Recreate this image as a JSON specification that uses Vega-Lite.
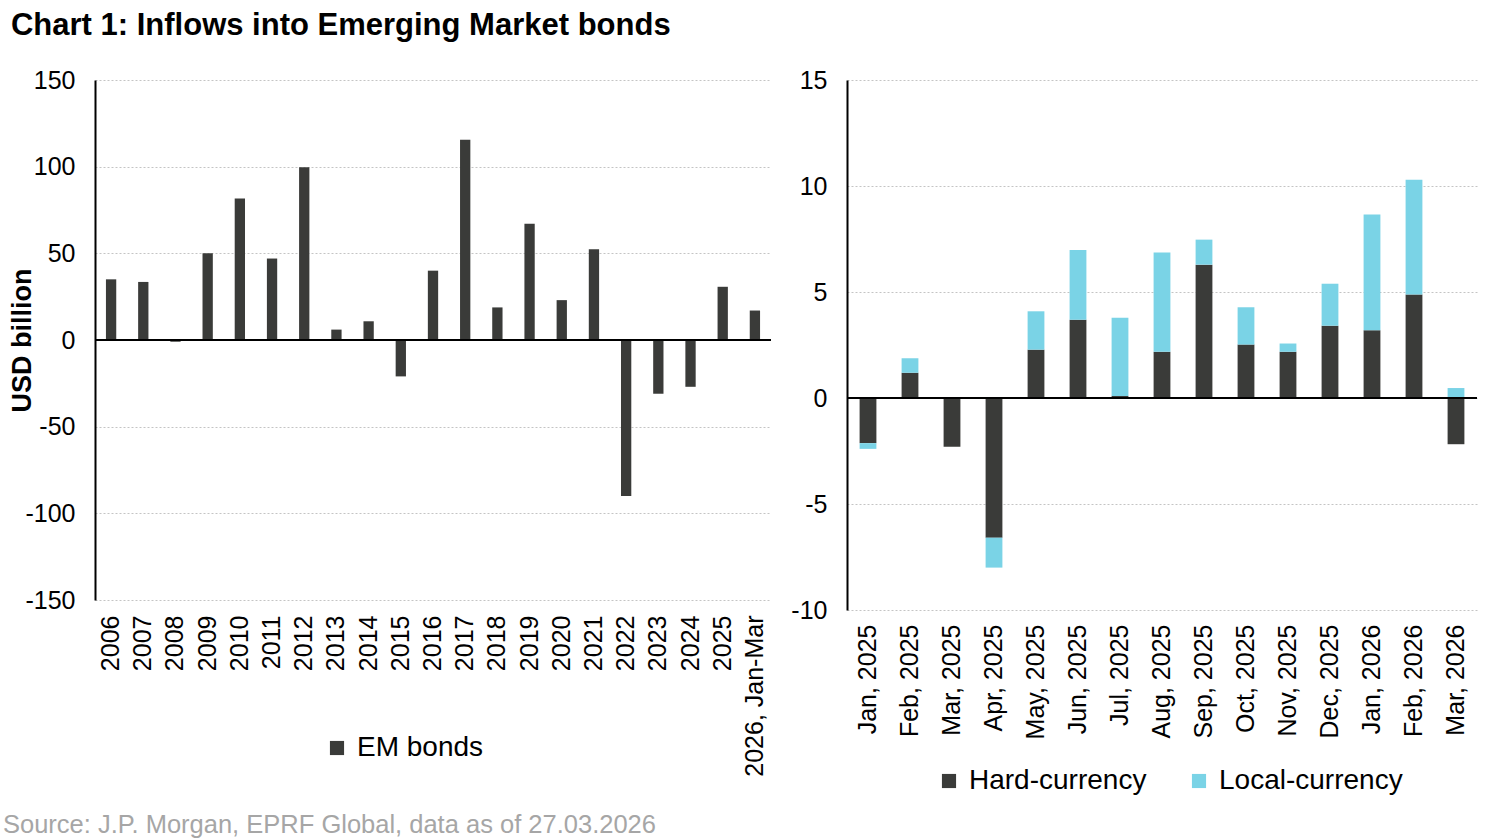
{
  "$schema": "https://vega.github.io/schema/vega-lite/v6.json",
  "description": "Chart 1: Inflows into Emerging Market bonds",
  "padding": {"left": 2, "top": 10, "right": 10, "bottom": 0},
  "background": "white",
  "spacing": 18,
  "title": {
    "text": "Chart 1: Inflows into Emerging Market bonds",
    "anchor": "start",
    "frame": "bounds",
    "fontSize": 31,
    "fontWeight": "bold",
    "color": "black",
    "offset": 26,
    "dx": 8
  },
  "datasets": {
    "annual": [
      {"period": "2006", "series": "EM bonds", "flow": 35},
      {"period": "2007", "series": "EM bonds", "flow": 33.5},
      {"period": "2008", "series": "EM bonds", "flow": -1},
      {"period": "2009", "series": "EM bonds", "flow": 50},
      {"period": "2010", "series": "EM bonds", "flow": 81.6},
      {"period": "2011", "series": "EM bonds", "flow": 47},
      {"period": "2012", "series": "EM bonds", "flow": 99.7},
      {"period": "2013", "series": "EM bonds", "flow": 6},
      {"period": "2014", "series": "EM bonds", "flow": 10.8},
      {"period": "2015", "series": "EM bonds", "flow": -21},
      {"period": "2016", "series": "EM bonds", "flow": 40},
      {"period": "2017", "series": "EM bonds", "flow": 115.6},
      {"period": "2018", "series": "EM bonds", "flow": 18.8},
      {"period": "2019", "series": "EM bonds", "flow": 67},
      {"period": "2020", "series": "EM bonds", "flow": 23},
      {"period": "2021", "series": "EM bonds", "flow": 52.3},
      {"period": "2022", "series": "EM bonds", "flow": -90},
      {"period": "2023", "series": "EM bonds", "flow": -31},
      {"period": "2024", "series": "EM bonds", "flow": -27},
      {"period": "2025", "series": "EM bonds", "flow": 30.7},
      {"period": "2026, Jan-Mar", "series": "EM bonds", "flow": 17}
    ],
    "monthly": [
      {"month": "Jan, 2025", "series": "Hard-currency", "flow": -2.13},
      {"month": "Jan, 2025", "series": "Local-currency", "flow": -0.27},
      {"month": "Feb, 2025", "series": "Hard-currency", "flow": 1.19},
      {"month": "Feb, 2025", "series": "Local-currency", "flow": 0.69},
      {"month": "Mar, 2025", "series": "Hard-currency", "flow": -2.3},
      {"month": "Mar, 2025", "series": "Local-currency", "flow": 0},
      {"month": "Apr, 2025", "series": "Hard-currency", "flow": -6.59},
      {"month": "Apr, 2025", "series": "Local-currency", "flow": -1.41},
      {"month": "May, 2025", "series": "Hard-currency", "flow": 2.28},
      {"month": "May, 2025", "series": "Local-currency", "flow": 1.81},
      {"month": "Jun, 2025", "series": "Hard-currency", "flow": 3.69},
      {"month": "Jun, 2025", "series": "Local-currency", "flow": 3.29},
      {"month": "Jul, 2025", "series": "Hard-currency", "flow": 0.1},
      {"month": "Jul, 2025", "series": "Local-currency", "flow": 3.69},
      {"month": "Aug, 2025", "series": "Hard-currency", "flow": 2.18},
      {"month": "Aug, 2025", "series": "Local-currency", "flow": 4.68},
      {"month": "Sep, 2025", "series": "Hard-currency", "flow": 6.29},
      {"month": "Sep, 2025", "series": "Local-currency", "flow": 1.18},
      {"month": "Oct, 2025", "series": "Hard-currency", "flow": 2.52},
      {"month": "Oct, 2025", "series": "Local-currency", "flow": 1.76},
      {"month": "Nov, 2025", "series": "Hard-currency", "flow": 2.18},
      {"month": "Nov, 2025", "series": "Local-currency", "flow": 0.39},
      {"month": "Dec, 2025", "series": "Hard-currency", "flow": 3.41},
      {"month": "Dec, 2025", "series": "Local-currency", "flow": 1.98},
      {"month": "Jan, 2026", "series": "Hard-currency", "flow": 3.2},
      {"month": "Jan, 2026", "series": "Local-currency", "flow": 5.46},
      {"month": "Feb, 2026", "series": "Hard-currency", "flow": 4.88},
      {"month": "Feb, 2026", "series": "Local-currency", "flow": 5.41},
      {"month": "Mar, 2026", "series": "Hard-currency", "flow": -2.18},
      {"month": "Mar, 2026", "series": "Local-currency", "flow": 0.47}
    ]
  },
  "hconcat": [
    {
      "width": 676,
      "height": 520,
      "title": {
        "text": "Source: J.P. Morgan, EPRF Global, data as of 27.03.2026",
        "orient": "bottom",
        "anchor": "start",
        "frame": "bounds",
        "fontSize": 25.5,
        "fontWeight": "normal",
        "color": "#a6a6a6",
        "offset": 37,
        "dx": -6
      },
      "data": {"name": "annual"},
      "layer": [
        {
          "mark": {"type": "bar"},
          "encoding": {
            "x": {
              "field": "period",
              "type": "nominal",
              "sort": null,
              "scale": {"paddingInner": 0.68, "paddingOuter": 0.34},
              "axis": {"title": null, "labelAngle": -90, "domain": false, "ticks": false, "labelPadding": 15}
            },
            "y": {
              "field": "flow",
              "type": "quantitative",
              "scale": {"domain": [-150, 150], "nice": false},
              "axis": {
                "values": [-150, -100, -50, 0, 50, 100, 150],
                "title": "USD billion",
                "titleFontSize": 27,
                "titleFontWeight": "bold",
                "titlePadding": -12
              }
            },
            "color": {
              "field": "series",
              "type": "nominal",
              "scale": {"domain": ["EM bonds"], "range": ["#3a3b39"]},
              "legend": {"orient": "none", "legendX": 228, "legendY": 654}
            }
          }
        },
        {
          "mark": {"type": "rule", "color": "black", "strokeWidth": 2},
          "encoding": {"y": {"datum": 0}}
        }
      ]
    },
    {
      "width": 630,
      "height": 530,
      "data": {"name": "monthly"},
      "layer": [
        {
          "mark": {"type": "bar"},
          "encoding": {
            "x": {
              "field": "month",
              "type": "nominal",
              "sort": null,
              "scale": {"paddingInner": 0.6, "paddingOuter": 0.3},
              "axis": {"title": null, "labelAngle": -90, "domain": false, "ticks": false, "labelPadding": 14}
            },
            "y": {
              "field": "flow",
              "type": "quantitative",
              "stack": "zero",
              "scale": {"domain": [-10, 15], "nice": false},
              "axis": {"values": [-10, -5, 0, 5, 10, 15], "title": null}
            },
            "color": {
              "field": "series",
              "type": "nominal",
              "scale": {"domain": ["Hard-currency", "Local-currency"], "range": ["#3a3b39", "#7ad3e6"]},
              "legend": {"orient": "none", "legendX": 88, "legendY": 687, "columnPadding": 38}
            },
            "order": {"field": "series", "sort": "ascending"}
          }
        },
        {
          "mark": {"type": "rule", "color": "black", "strokeWidth": 2},
          "encoding": {"y": {"datum": 0}}
        }
      ]
    }
  ],
  "resolve": {
    "scale": {"x": "independent", "y": "independent", "color": "independent"},
    "legend": {"color": "independent"}
  },
  "config": {
    "font": "Liberation Sans, Arial",
    "view": {"stroke": null},
    "axis": {
      "labelFontSize": 25,
      "labelColor": "black",
      "labelLimit": 400,
      "titleColor": "black",
      "gridColor": "#c4c4c4",
      "gridDash": [2, 2],
      "gridWidth": 1
    },
    "axisY": {
      "grid": true,
      "domain": true,
      "domainColor": "black",
      "domainWidth": 2,
      "ticks": false,
      "labelPadding": 20,
      "labelExpr": "toString(datum.value)"
    },
    "legend": {
      "direction": "horizontal",
      "title": null,
      "labelFontSize": 28,
      "labelColor": "black",
      "labelLimit": 400,
      "symbolType": "square",
      "symbolSize": 200,
      "symbolStrokeWidth": 0,
      "symbolOpacity": 1,
      "labelOffset": 6,
      "padding": 0
    },
    "bar": {"stroke": null}
  }
}
